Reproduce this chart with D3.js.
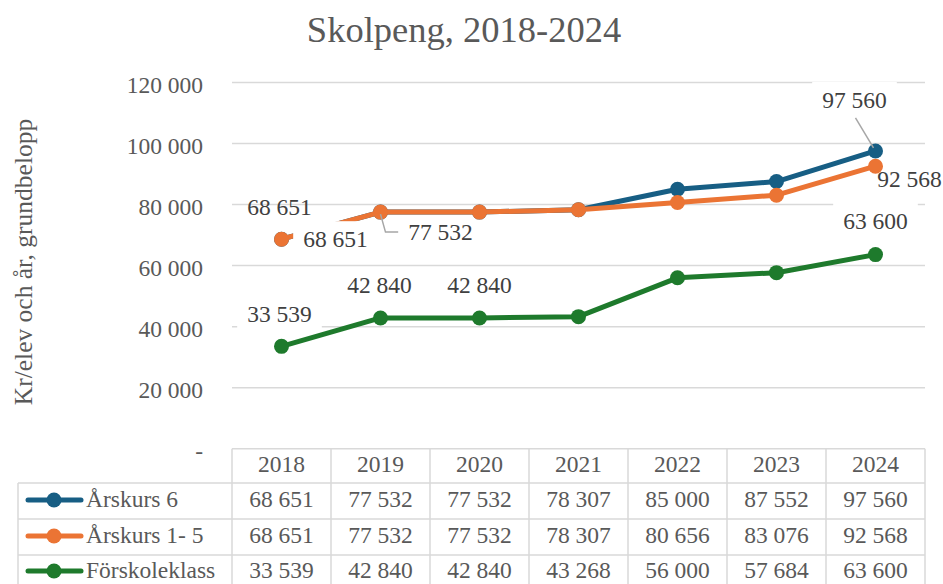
<!DOCTYPE html>
<html>
<head>
<meta charset="utf-8">
<script src="https://cdn.jsdelivr.net/npm/d3@7"></script>
<style>
  body { margin: 0; background: #fff; }
</style>
</head>
<body>
<div id="chart"></div>
<script>
// data
var years = ["2018", "2019", "2020", "2021", "2022", "2023", "2024"];
var arskurs6 = [68651, 77532, 77532, 78307, 85000, 87552, 97560];
var arskurs15 = [68651, 77532, 77532, 78307, 80656, 83076, 92568];
var forskoleklass = [33539, 42840, 42840, 43268, 56000, 57684, 63600];
var yTicks = [0, 20000, 40000, 60000, 80000, 100000, 120000];
var seriesNames = ["Årskurs 6", "Årskurs 1- 5", "Förskoleklass"];

var series = [
  { name: seriesNames[0], values: arskurs6, color: "#175E84" },
  { name: seriesNames[1], values: arskurs15, color: "#EB7434" },
  { name: seriesNames[2], values: forskoleklass, color: "#1E7A2C" }
];

// which data labels are shown and where (offsets from the point); box = white box height above baseline
var labelSpots = [
  { s: 0, i: 0, dx: -2, dy: -24, box: 0 },
  { s: 0, i: 6, dx: -21, dy: -43, box: 26, leader: [[-20, -33], [-2, -3]] },
  { s: 1, i: 0, dx: 54, dy: 8, box: 26 },
  { s: 1, i: 1, dx: 60, dy: 28, box: 20, leader: [[0, 2], [5, 20], [19, 20]] },
  { s: 1, i: 6, dx: 34, dy: 21, box: 0 },
  { s: 2, i: 0, dx: -2, dy: -24, box: 26 },
  { s: 2, i: 1, dx: -1, dy: -25, box: 26 },
  { s: 2, i: 2, dx: 0, dy: -25, box: 26 },
  { s: 2, i: 6, dx: 0, dy: -26, box: 26 }
];

var width = 943, height = 584;
var plotLeft = 232, plotRight = 925, plotTop = 82.5, plotBottom = 448.7;
var rowTops = [448.7, 483, 519, 555];
var rowBase = [507, 543, 578];
var textColor = "#595959";
var gridColor = "#d9d9d9";
var serif = "'Liberation Serif', 'Times New Roman', Times, 'DejaVu Serif', serif";

var fmt = d3.formatLocale({ decimal: ",", thousands: " ", grouping: [3], currency: ["", ""] }).format(",");

var svg = d3.select("#chart")
  .append("svg")
    .attr("width", width)
    .attr("height", height)
    .attr("font-family", serif);

var x = d3.scaleBand().domain(years).range([plotLeft, plotRight]);
var y = d3.scaleLinear().domain([0, 120000]).range([plotBottom, plotTop]);
function px(i) { return x(years[i]) + x.bandwidth() / 2; }

// title
svg.append("text")
  .attr("x", 464).attr("y", 42)
  .attr("text-anchor", "middle")
  .attr("fill", textColor)
  .style("font-size", "36.5px")
  .text("Skolpeng, 2018-2024");

// y axis title
svg.append("text")
  .attr("transform", "translate(32,262) rotate(-90)")
  .attr("text-anchor", "middle")
  .attr("fill", textColor)
  .style("font-size", "25.5px")
  .text("Kr/elev och år, grundbelopp");

// gridlines
svg.append("g")
  .selectAll("line")
  .data(yTicks.filter(function(d) { return d > 0; }))
  .enter()
  .append("line")
    .attr("x1", plotLeft).attr("x2", plotRight)
    .attr("y1", function(d) { return y(d); })
    .attr("y2", function(d) { return y(d); })
    .attr("stroke", gridColor)
    .attr("stroke-width", 1.5);

// y tick labels
svg.append("g")
  .selectAll("text")
  .data(yTicks)
  .enter()
  .append("text")
    .attr("x", 203)
    .attr("y", function(d) { return y(d) + 10; })
    .attr("text-anchor", "end")
    .attr("fill", textColor)
    .style("font-size", "23.5px")
    .text(function(d) { return d === 0 ? "-" : fmt(d); });

// lines + markers
var line = d3.line()
  .x(function(d, i) { return px(i); })
  .y(function(d) { return y(d); });

series.forEach(function(s) {
  svg.append("path")
    .datum(s.values)
    .attr("d", line)
    .attr("fill", "none")
    .attr("stroke", s.color)
    .attr("stroke-width", 5)
    .attr("stroke-linejoin", "round");
  svg.append("g")
    .selectAll("circle")
    .data(s.values)
    .enter()
    .append("circle")
      .attr("cx", function(d, i) { return px(i); })
      .attr("cy", function(d) { return y(d); })
      .attr("r", 7.5)
      .attr("fill", s.color);
});

// data labels (white box behind, like the Excel labels)
labelSpots.forEach(function(l) {
  var v = series[l.s].values[l.i];
  var cx = px(l.i), cy = y(v);
  var g = svg.append("g");
  if (l.leader) {
    g.append("polyline")
      .attr("points", l.leader.map(function(p) { return (cx + p[0]) + "," + (cy + p[1]); }).join(" "))
      .attr("fill", "none")
      .attr("stroke", "#a6a6a6")
      .attr("stroke-width", 1.5);
  }
  var t = g.append("text")
    .attr("x", cx + l.dx)
    .attr("y", cy + l.dy)
    .attr("text-anchor", "middle")
    .attr("fill", "#404040")
    .style("font-size", "23.5px")
    .text(fmt(v));
  if (l.box) {
    var bb = t.node().getBBox();
    g.insert("rect", "text")
      .attr("x", bb.x - 10).attr("y", cy + l.dy - l.box)
      .attr("width", bb.width + 20).attr("height", l.box + 7)
      .attr("fill", "#fff");
  }
});

// data table
var table = svg.append("g");

table.append("line")
  .attr("x1", plotLeft).attr("x2", plotRight)
  .attr("y1", rowTops[0]).attr("y2", rowTops[0])
  .attr("stroke", gridColor).attr("stroke-width", 1.5);

table.selectAll("line.col")
  .data(d3.range(years.length + 1))
  .enter()
  .append("line")
    .attr("class", "col")
    .attr("x1", function(d) { return plotLeft + d * x.bandwidth(); })
    .attr("x2", function(d) { return plotLeft + d * x.bandwidth(); })
    .attr("y1", rowTops[0]).attr("y2", height)
    .attr("stroke", gridColor).attr("stroke-width", 1.5);

table.selectAll("text.year")
  .data(years)
  .enter()
  .append("text")
    .attr("class", "year")
    .attr("x", function(d) { return x(d) + x.bandwidth() / 2; })
    .attr("y", 472)
    .attr("text-anchor", "middle")
    .attr("fill", textColor)
    .style("font-size", "23.5px")
    .text(function(d) { return d; });

// row borders
[1, 2, 3].forEach(function(r) {
  table.append("line")
    .attr("x1", 18).attr("x2", plotRight)
    .attr("y1", rowTops[r]).attr("y2", rowTops[r])
    .attr("stroke", gridColor).attr("stroke-width", 1.5);
});
table.append("line")
  .attr("x1", 18).attr("x2", 18)
  .attr("y1", rowTops[1]).attr("y2", height)
  .attr("stroke", gridColor).attr("stroke-width", 1.5);

series.forEach(function(s, r) {
  var base = rowBase[r];
  table.append("line")
    .attr("x1", 28).attr("x2", 81)
    .attr("y1", base - 7).attr("y2", base - 7)
    .attr("stroke", s.color).attr("stroke-width", 5)
    .attr("stroke-linecap", "round");
  table.append("circle")
    .attr("cx", 54).attr("cy", base - 7).attr("r", 7.5)
    .attr("fill", s.color);
  table.append("text")
    .attr("x", 86).attr("y", base)
    .attr("fill", textColor)
    .style("font-size", "23.5px")
    .text(s.name);
  table.append("g")
    .selectAll("text")
    .data(s.values)
    .enter()
    .append("text")
      .attr("x", function(d, i) { return px(i); })
      .attr("y", base)
      .attr("text-anchor", "middle")
      .attr("fill", textColor)
      .style("font-size", "23.5px")
      .text(function(d) { return fmt(d); });
});
</script>
</body>
</html>
